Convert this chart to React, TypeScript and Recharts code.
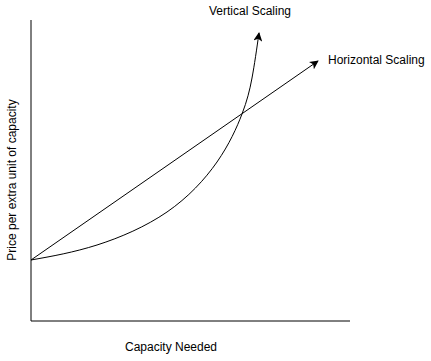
import { LineChart, Line, XAxis, YAxis, LabelList } from "recharts"

// values in plot units: x = capacity needed, y = price per extra unit
const verticalCapacity = [0, 66, 136, 186, 211, 221, 228]
const verticalPrice = [61, 76, 109, 159, 207, 243, 288]
const horizontalCapacity = [0, 287]
const horizontalPrice = [61, 260]

const verticalData = verticalCapacity.map((x, i) => ({ x, y: verticalPrice[i] }))
const horizontalData = horizontalCapacity.map((x, i) => ({ x, y: horizontalPrice[i] }))

const font = "'Liberation Sans', Arial, Helvetica, sans-serif"

const endLabel = (text: string, dx: number, dy: number, anchor: string, last: number) =>
  (props: any) => {
    if (props.index !== last) return null
    return (
      <text
        x={props.x + dx}
        y={props.y + dy}
        textAnchor={anchor}
        fontSize={12}
        fontFamily={font}
        fill="#000"
        dominantBaseline="middle"
      >
        {text}
      </text>
    )
  }

export default function App() {
  return (
    <div style={{ position: "absolute", left: 0, top: 0, background: "#fff" }}>
      <LineChart
        width={431}
        height={361}
        margin={{ top: 20, right: 81, bottom: 0, left: 0 }}
      >
        <defs>
          <marker
            id="arrow"
            viewBox="0 0 10 10"
            refX="9"
            refY="5"
            markerWidth="9"
            markerHeight="9"
            markerUnits="userSpaceOnUse"
            orient="auto"
          >
            <path d="M0,0 L10,5 L0,10 L2.5,5 z" fill="#000" />
          </marker>
        </defs>
        <XAxis
          type="number"
          dataKey="x"
          domain={[0, 319]}
          tick={false}
          tickLine={false}
          height={40}
          axisLine={{ stroke: "#000", strokeWidth: 1 }}
          label={{
            content: (p: any) => (
              <text
                x={p.viewBox.x + 140}
                y={p.viewBox.y + 30}
                textAnchor="middle"
                fontSize={12}
                fontFamily={font}
                fill="#000"
              >
                Capacity Needed
              </text>
            ),
          }}
        />
        <YAxis
          type="number"
          dataKey="y"
          domain={[0, 301]}
          tick={false}
          tickLine={false}
          width={31}
          axisLine={{ stroke: "#000", strokeWidth: 1 }}
          label={{
            content: () => (
              <text
                x={16}
                y={180}
                textAnchor="middle"
                fontSize={12}
                fontFamily={font}
                fill="#000"
                transform="rotate(-90 16 180)"
              >
                Price per extra unit of capacity
              </text>
            ),
          }}
        />
        <Line
          data={horizontalData}
          dataKey="y"
          type="linear"
          stroke="#000"
          strokeWidth={1}
          dot={false}
          markerEnd="url(#arrow)"
          isAnimationActive={false}
        >
          <LabelList
            dataKey="y"
            content={endLabel("Horizontal Scaling", 10, 0, "start", horizontalData.length - 1)}
          />
        </Line>
        <Line
          data={verticalData}
          dataKey="y"
          type="natural"
          stroke="#000"
          strokeWidth={1}
          dot={false}
          markerEnd="url(#arrow)"
          isAnimationActive={false}
        >
          <LabelList
            dataKey="y"
            content={endLabel("Vertical Scaling", -9, -21, "middle", verticalData.length - 1)}
          />
        </Line>
      </LineChart>
    </div>
  )
}
